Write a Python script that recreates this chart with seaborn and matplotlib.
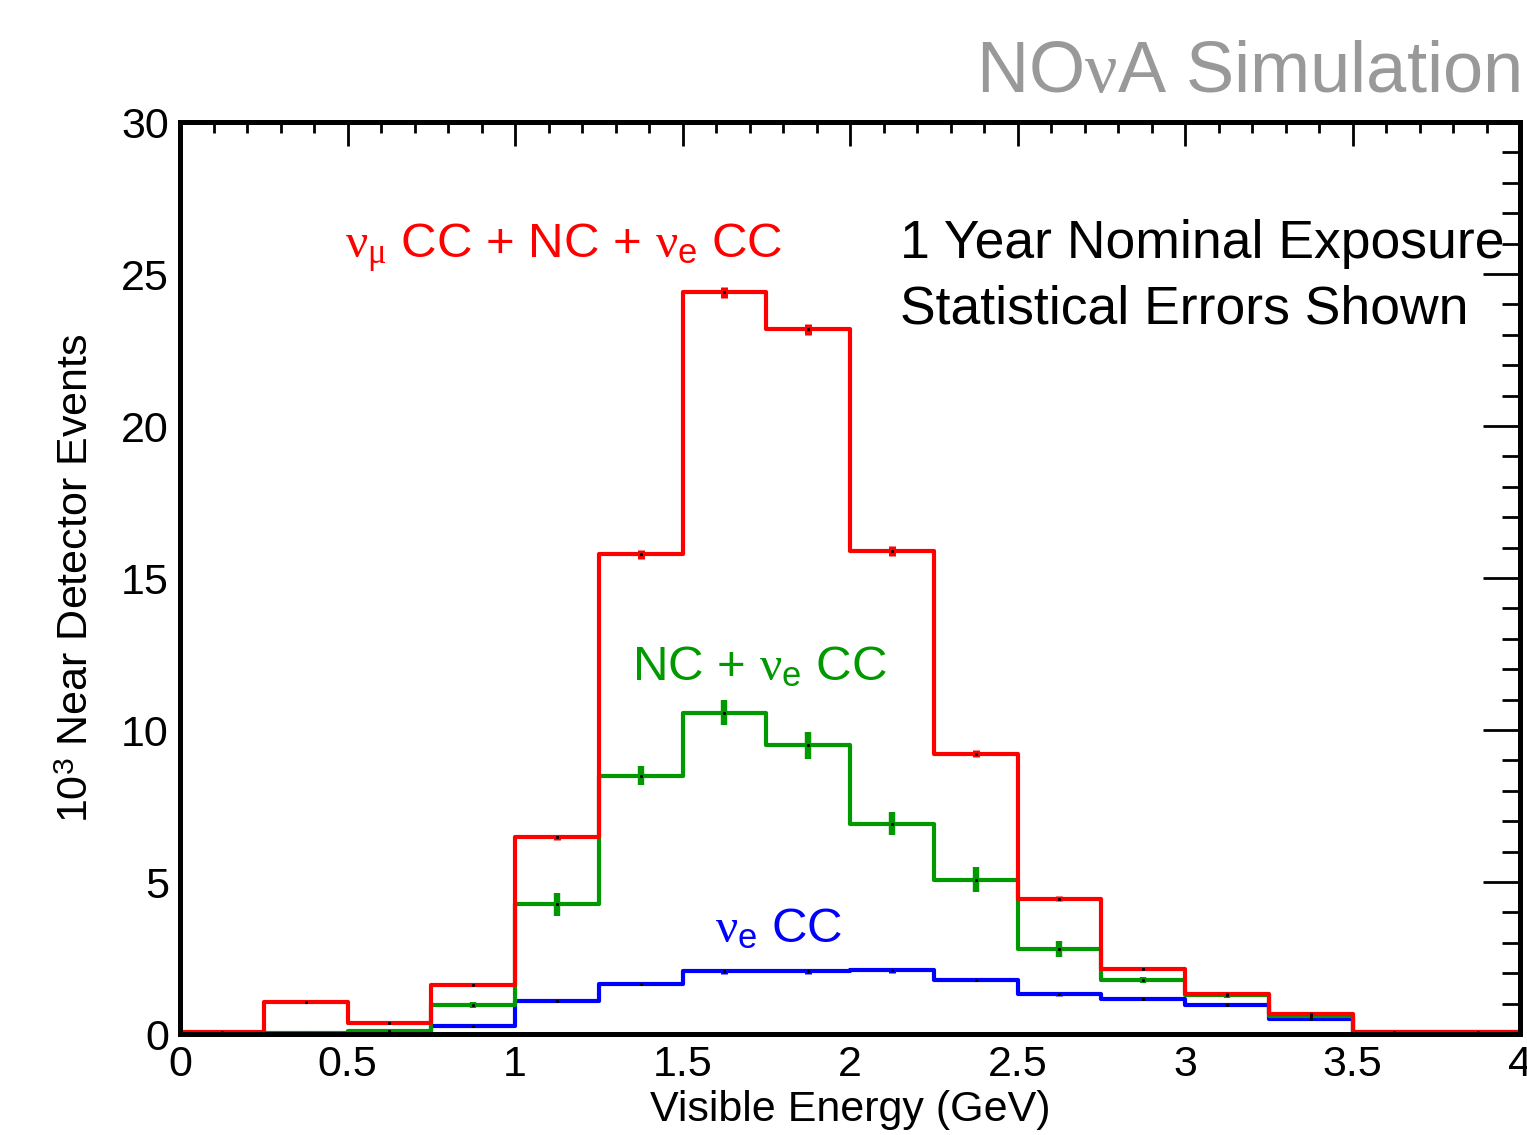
import numpy as np
import pandas as pd
import matplotlib
matplotlib.use("Agg")
import matplotlib.pyplot as plt
from matplotlib.ticker import MultipleLocator
import seaborn as sns

# Visible energy binning (GeV)
bin_edges = [0.0, 0.25, 0.5, 0.75, 1.0, 1.25, 1.5, 1.75, 2.0,
             2.25, 2.5, 2.75, 3.0, 3.25, 3.5, 3.75, 4.0]
bin_centers = [0.5 * (a + b) for a, b in zip(bin_edges[:-1], bin_edges[1:])]

# Near detector event counts, in units of 10^3 events
total_events = [0.05, 1.05, 0.37, 1.62, 6.47, 15.78, 24.40, 23.18,
                15.89, 9.22, 4.45, 2.15, 1.32, 0.66, 0.08, 0.08]
total_errors = [0.01, 0.03, 0.02, 0.04, 0.08, 0.15, 0.18, 0.18,
                0.16, 0.12, 0.08, 0.05, 0.04, 0.03, 0.01, 0.01]

nc_nue_events = [0.01, 0.03, 0.09, 0.96, 4.26, 8.49, 10.57, 9.50,
                 6.92, 5.08, 2.80, 1.78, 1.27, 0.58, 0.05, 0.05]
nc_nue_errors = [0.01, 0.02, 0.04, 0.10, 0.37, 0.31, 0.42, 0.45,
                 0.37, 0.42, 0.26, 0.10, 0.08, 0.06, 0.02, 0.02]

nue_cc_events = [0.00, 0.01, 0.02, 0.25, 1.10, 1.66, 2.06, 2.06,
                 2.09, 1.79, 1.30, 1.16, 0.96, 0.50, 0.03, 0.03]
nue_cc_errors = [0.00, 0.01, 0.01, 0.03, 0.05, 0.06, 0.07, 0.07,
                 0.07, 0.06, 0.05, 0.05, 0.04, 0.03, 0.01, 0.01]

x_ticks = [0, 0.5, 1, 1.5, 2, 2.5, 3, 3.5, 4]
x_tick_labels = ["0", "0.5", "1", "1.5", "2", "2.5", "3", "3.5", "4"]
y_ticks = [0, 5, 10, 15, 20, 25, 30]
y_tick_labels = ["0", "5", "10", "15", "20", "25", "30"]

RED = "#ff0000"
GREEN = "#009900"
BLUE = "#0000ff"

sns.set_theme(style="white")
plt.rcParams["font.family"] = ["Liberation Sans", "DejaVu Sans"]
plt.rcParams["mathtext.fontset"] = "custom"
plt.rcParams["mathtext.rm"] = "Liberation Sans"
plt.rcParams["mathtext.it"] = "Liberation Serif"
plt.rcParams["mathtext.bf"] = "Liberation Sans:bold"

W, H = 1527, 1135
fig = plt.figure(figsize=(W / 100, H / 100), dpi=100)
fig.patch.set_facecolor("white")
ax = fig.add_axes([180 / W, 1 - 1034 / H, 1340 / W, 912 / H])
ax.set_facecolor("white")

n = len(bin_centers)
df = pd.DataFrame({
    "energy": bin_centers * 3,
    "events": nue_cc_events + nc_nue_events + total_events,
    "sample": ["nue"] * n + ["ncnue"] * n + ["total"] * n,
})

series = [
    ("nue", nue_cc_events, nue_cc_errors, BLUE),
    ("ncnue", nc_nue_events, nc_nue_errors, GREEN),
    ("total", total_events, total_errors, RED),
]
for z, (name, vals, errs, col) in enumerate(series):
    sub = df[df["sample"] == name]
    sns.histplot(data=sub, x="energy", weights="events", bins=bin_edges,
                 element="step", fill=False, color=col, linewidth=3.0,
                 ax=ax, zorder=3 + 2 * z)
    ax.errorbar(bin_centers, vals, yerr=errs, fmt="none", ecolor=col,
                elinewidth=4.6 if name == "ncnue" else 5.0, capsize=0,
                zorder=4 + 2 * z)
    ax.plot(bin_centers, vals, ls="none", marker="s", ms=1.2,
            color="black", zorder=4 + 2 * z)

ax.set_xlim(0, 4)
ax.set_ylim(0, 30)
ax.set_xticks(x_ticks)
ax.set_xticklabels(x_tick_labels)
ax.set_yticks(y_ticks)
ax.set_yticklabels(y_tick_labels)
ax.xaxis.set_minor_locator(MultipleLocator(0.1))
ax.yaxis.set_minor_locator(MultipleLocator(1))
ax.tick_params(axis="both", which="both", direction="in", top=True, right=True,
               color="black", width=2.0, labelsize=31, labelcolor="black")
ax.tick_params(axis="x", which="major", length=17, pad=8)
ax.tick_params(axis="x", which="minor", length=8)
ax.tick_params(axis="y", which="major", length=27, pad=8)
ax.tick_params(axis="y", which="minor", length=13)
for sp in ax.spines.values():
    sp.set_visible(True)
    sp.set_color("black")
    sp.set_linewidth(3.6)
    sp.set_zorder(20)
ax.grid(False)

ax.set_xlabel("Visible Energy (GeV)", fontsize=31, color="black")
ax.set_ylabel(r"10$^{3}$ Near Detector Events", fontsize=31, color="black")
ax.xaxis.set_label_coords(0.5, -0.061)
ax.yaxis.set_label_coords(-0.062, 0.5)


def fig_text(x, y, s, **kw):
    fig.text(x / W, 1 - y / H, s, va="baseline", **kw)


fig_text(1520, 92, r"NO$\nu$A Simulation", ha="right", fontsize=52, color="#999999")
fig_text(900, 258, "1 Year Nominal Exposure", ha="left", fontsize=38.5, color="black")
fig_text(900, 324, "Statistical Errors Shown", ha="left", fontsize=38.5, color="black")
fig_text(345, 258, r"$\nu_{\mu}$ CC + NC + $\nu_{\mathrm{e}}$ CC", ha="left",
         fontsize=35.5, color=RED)
fig_text(632, 680, r"NC + $\nu_{\mathrm{e}}$ CC", ha="left", fontsize=35.5, color=GREEN)
fig_text(715, 942, r"$\nu_{\mathrm{e}}$ CC", ha="left", fontsize=35.5, color=BLUE)

fig.savefig("out.png", dpi=100, facecolor="white")
